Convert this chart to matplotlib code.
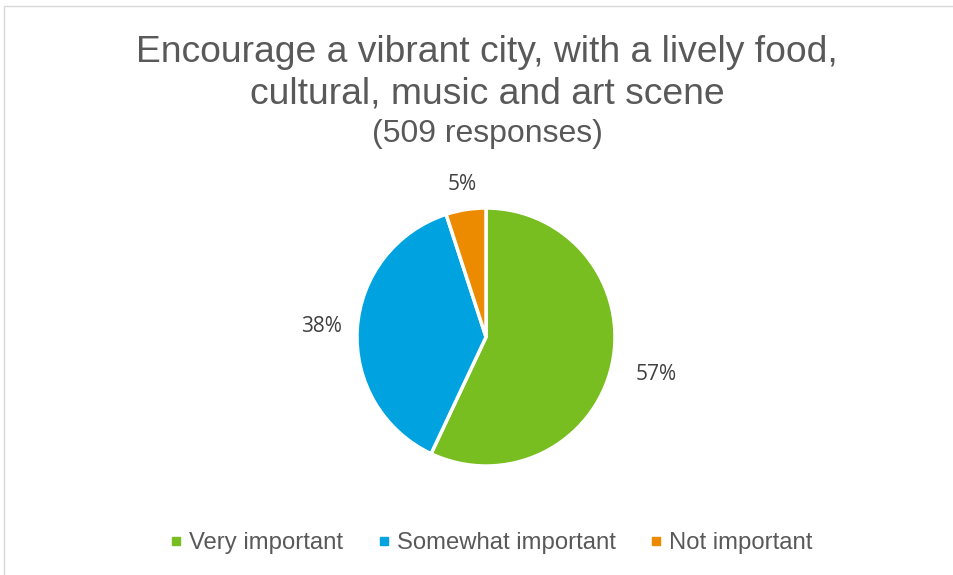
import matplotlib
matplotlib.use('Agg')
import matplotlib.pyplot as plt
from matplotlib.lines import Line2D
from matplotlib.patches import Rectangle
import numpy as np

categories = ['Very important', 'Somewhat important', 'Not important']
shares = [57, 38, 5]
colors = ['#78BE20', '#00A3E0', '#ED8B00']
label_dist = [1.35, 1.28, 1.20]

title = 'Encourage a vibrant city, with a lively food,\ncultural, music and art scene'
subtitle = '(509 responses)'

W, H = 954, 575
fig = plt.figure(figsize=(W / 100, H / 100), dpi=100)
fig.patch.set_facecolor('white')

# chart area frame (only top and left edges fall inside the image)
fig.patches.append(Rectangle((4 / W, -0.1), 1.2, 1 - 6 / H + 0.1,
                             transform=fig.transFigure, fill=False,
                             edgecolor='#d9d9d9', linewidth=1))

fig.text(487 / W, 1 - 73 / H, title, ha='center', va='center',
         fontsize=26.8, color='#595959', family='Liberation Sans', linespacing=1.25)
fig.text(487 / W, 1 - 134 / H, subtitle, ha='center', va='center',
         fontsize=23, color='#595959', family='Liberation Sans')

cx, cy, r = 486, 337, 129
ax = fig.add_axes([(cx - r) / W, (H - cy - r) / H, 2 * r / W, 2 * r / H])
wedges, _ = ax.pie(shares, colors=colors, startangle=90, counterclock=False,
                   wedgeprops=dict(edgecolor='white', linewidth=2.5))
ax.set_xlim(-1, 1)
ax.set_ylim(-1, 1)

for w, v, d in zip(wedges, shares, label_dist):
    ang = np.deg2rad((w.theta1 + w.theta2) / 2)
    ax.text(d * np.cos(ang), d * np.sin(ang), f'{v}%', ha='center', va='center',
            fontsize=15, color='#404040', family='Open Sans')

handles = [Line2D([], [], marker='s', linestyle='none', markersize=5.5,
                  markerfacecolor=c, markeredgecolor=c) for c in colors]
fig.legend(handles, categories, loc='center', bbox_to_anchor=(492 / W, 1 - 543 / H),
           ncol=3, frameon=False, handlelength=0.4, handletextpad=0.35,
           columnspacing=1.5, prop={'family': 'Liberation Sans', 'size': 17.2},
           labelcolor='#595959')

fig.savefig('out.png', dpi=100)
